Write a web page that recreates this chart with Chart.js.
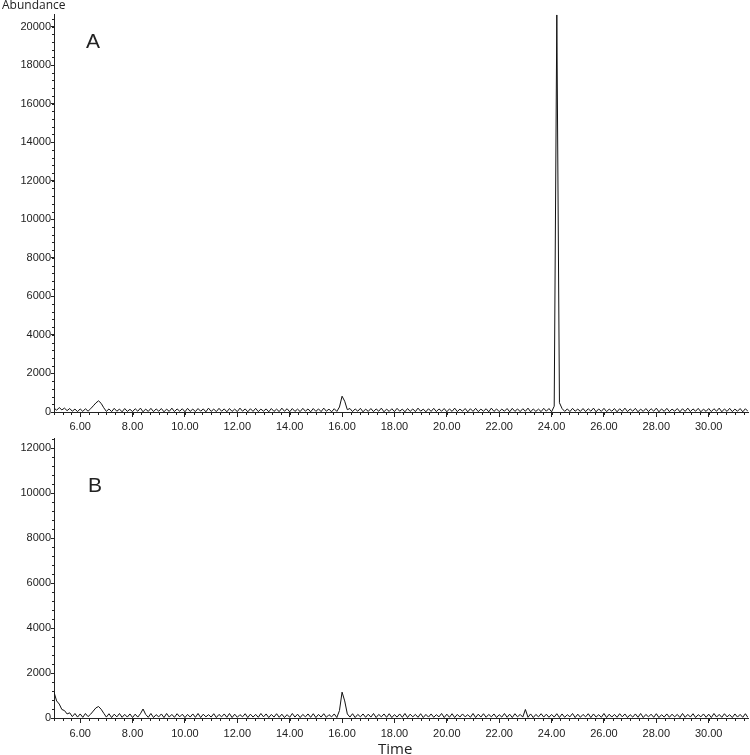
<!DOCTYPE html>
<html><head><meta charset="utf-8">
<script src="https://cdn.jsdelivr.net/npm/chart.js@4.4.1/dist/chart.umd.min.js"></script>
<style>
html,body{margin:0;padding:0;background:#fff;width:750px;height:755px;overflow:hidden;position:relative}
canvas{position:absolute;left:0}
.t{position:absolute;line-height:1;white-space:nowrap;color:#222}
</style></head><body>
<canvas id="cA" width="750" height="440" style="top:0px"></canvas>
<canvas id="cB" width="750" height="330" style="top:425px"></canvas>
<div class="t" style="left:2px;top:-1px;font-family:'Open Sans';font-size:12px">Abundance</div>
<div class="t" style="left:86px;top:30px;font-family:'Liberation Sans',Arial;font-size:21px">A</div>
<div class="t" style="left:88px;top:474px;font-family:'Liberation Sans',Arial;font-size:21px">B</div>
<div class="t" style="left:378px;top:741px;font-family:'Open Sans';font-size:15px">Time</div>
<script>
// Retention time grid (min): first sample and sampling interval
const timeStart = 5.0;
const timeStep = 0.1;

// Panel A abundance, one row per minute (5.0 ... 31.5)
const abundanceA = [
  210,90,230,110,200,70,180,40,150,20,
  160,30,170,40,170,320,470,580,450,220,
  30,160,20,190,40,150,10,180,30,140,
  20,170,40,200,10,150,30,190,20,160,
  40,180,10,150,30,200,20,160,40,170,
  10,190,30,150,20,180,40,160,10,200,
  30,150,20,190,40,160,10,180,30,150,
  20,200,40,160,10,170,30,190,20,150,
  40,160,10,180,30,150,20,200,40,170,
  10,180,30,150,20,190,40,160,10,180,
  30,160,20,200,40,150,10,170,30,260,
  820,560,120,180,20,160,40,190,10,150,
  30,180,20,160,40,200,10,150,30,170,
  20,190,40,150,10,180,30,160,20,200,
  40,150,10,170,30,190,20,160,40,180,
  10,160,30,200,20,150,40,180,10,170,
  30,190,20,150,40,170,10,200,30,160,
  20,150,40,180,10,190,30,160,20,170,
  40,200,10,160,30,150,20,190,40,180,
  10,300,20600,480,180,30,160,20,190,40,
  150,30,180,20,170,40,200,10,160,30,
  190,20,150,40,180,10,170,30,200,20,
  160,40,190,10,150,30,180,20,170,40,
  200,10,160,30,190,20,150,40,180,10,
  170,30,200,20,160,40,190,10,150,30,
  180,20,170,40,200,10,160,30,190,20,
  150,40,180,10,170,30
];

// Panel B abundance, one row per minute (5.0 ... 31.5)
const abundanceB = [
  1150,760,620,380,330,180,230,60,200,40,
  180,30,200,60,170,310,450,510,390,210,
  40,190,20,170,50,200,30,160,40,180,
  20,170,40,190,400,160,30,200,20,150,
  50,180,20,200,40,160,30,190,50,170,
  20,160,40,180,30,200,20,170,50,150,
  40,190,20,160,50,180,30,200,20,170,
  30,150,50,190,20,170,40,160,30,200,
  50,180,20,160,40,190,30,170,20,150,
  30,200,40,170,20,160,50,180,30,190,
  20,160,40,190,30,150,50,180,20,330,
  1150,760,180,40,190,20,160,50,180,30,
  170,40,200,20,160,50,180,30,190,20,
  150,40,180,30,200,20,170,50,160,30,
  190,20,160,40,180,30,150,50,200,20,
  170,30,190,20,160,40,180,50,150,30,
  200,20,170,40,190,30,160,50,180,20,
  150,40,200,30,170,20,190,50,160,40,
  380,30,180,20,160,50,190,40,170,30,
  160,40,190,20,180,30,150,50,200,20,
  170,30,160,50,190,20,180,40,150,30,
  200,20,170,40,160,30,190,50,180,20,
  150,40,180,30,200,20,160,50,170,30,
  190,20,150,40,180,30,170,50,160,20,
  200,30,160,40,190,20,150,50,180,30,
  170,20,200,40,160,30,190,50,150,20,
  180,40,160,30,190,20
];

// Axis tick labels
const xTickValues = [6,8,10,12,14,16,18,20,22,24,26,28,30];
const yTickValuesA = [0,2000,4000,6000,8000,10000,12000,14000,16000,18000,20000];
const yTickValuesB = [0,2000,4000,6000,8000,10000,12000];

const xMin = 5.0, xMax = 31.5;
const yMaxA = 20650, yMaxB = 12450;

const INK = '#222';
const tickFont = {family: "'Liberation Sans', Arial, sans-serif", size: 11};

const minorTicks = {
  id: 'minorTicks',
  afterDraw(chart) {
    const ctx = chart.ctx, xs = chart.scales.x, ys = chart.scales.y;
    ctx.save();
    ctx.strokeStyle = INK;
    ctx.lineWidth = 1;
    ctx.beginPath();
    const xStep = 2 / 6;
    for (let k = -3; ; k++) {
      const v = 6 + k * xStep;
      if (v > xs.max + 1e-9) break;
      if (v < xs.min - 1e-9) continue;
      const px = Math.round(xs.getPixelForValue(v)) + 0.5;
      ctx.moveTo(px, xs.top);
      ctx.lineTo(px, xs.top + 3);
    }
    const yStep = 400;
    for (let k = 0; ; k++) {
      const v = k * yStep;
      if (v > ys.max) break;
      const py = Math.round(ys.getPixelForValue(v)) + 0.5;
      ctx.moveTo(ys.right, py);
      ctx.lineTo(ys.right - 2, py);
    }
    ctx.stroke();
    ctx.restore();
  }
};

function makeChart(id, values, yTicks, yMax, padTop, xHeight, xPad) {
  const pts = values.map((v, i) => ({x: +(timeStart + i * timeStep).toFixed(2), y: v}));
  return new Chart(document.getElementById(id), {
    type: 'line',
    data: {datasets: [{data: pts, borderColor: '#111', borderWidth: 1, pointRadius: 0, tension: 0, fill: false}]},
    options: {
      responsive: false, animation: false, events: [],
      layout: {padding: {top: padTop, right: 2, left: 0, bottom: 0}},
      plugins: {legend: {display: false}, tooltip: {enabled: false}, title: {display: false}},
      scales: {
        x: {
          type: 'linear', min: xMin, max: xMax,
          afterBuildTicks(s) { s.ticks = xTickValues.map(v => ({value: v})); },
          afterFit(s) { s.height = xHeight; },
          grid: {drawOnChartArea: false, tickLength: 5, color: INK},
          border: {color: INK, width: 1},
          ticks: {padding: xPad, maxRotation: 0, minRotation: 0, autoSkip: false, color: INK, font: tickFont,
                  callback: v => Number(v).toFixed(2)}
        },
        y: {
          type: 'linear', min: 0, max: yMax,
          afterBuildTicks(s) { s.ticks = yTicks.map(v => ({value: v})); },
          afterFit(s) { s.width = 54; },
          grid: {drawOnChartArea: false, tickLength: 3, color: INK},
          border: {color: INK, width: 1},
          ticks: {padding: 0, autoSkip: false, color: INK, font: tickFont, callback: v => String(v)}
        }
      }
    },
    plugins: [minorTicks]
  });
}

makeChart('cA', abundanceA, yTickValuesA, yMaxA, 14, 28, 3);
makeChart('cB', abundanceB, yTickValuesB, yMaxB, 13, 37, 4);
</script>
</body></html>
